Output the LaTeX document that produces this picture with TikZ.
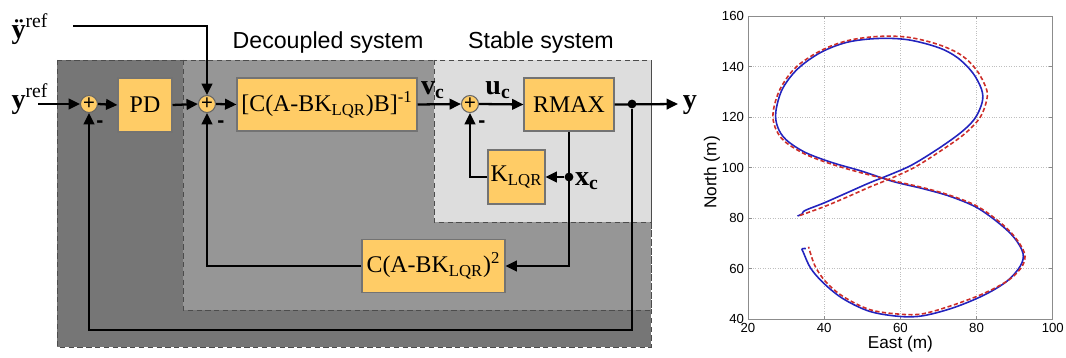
\documentclass[tikz,border=0pt]{standalone}
\usepackage{fontspec}
\setmainfont{Liberation Serif}
\newfontfamily\arialfont{Liberation Sans}
\usetikzlibrary{arrows.meta}
\definecolor{boxfill}{RGB}{255,204,102}
\definecolor{outergray}{RGB}{118,118,118}
\definecolor{midgray}{RGB}{150,150,150}
\definecolor{stablegray}{RGB}{221,221,221}
\definecolor{trackblue}{RGB}{35,35,190}
\definecolor{trackred}{RGB}{205,45,40}
\tikzset{
  block/.style={rectangle, draw=black!55, fill=boxfill, line width=0.6pt, inner sep=0pt, font=\fontsize{13.6}{15}\selectfont, align=center},
  sumnode/.style={circle, draw=black!60, fill=boxfill, line width=0.6pt, minimum size=0.34cm, inner sep=0pt, font=\arialfont\fontsize{11.5}{11.5}\selectfont},
  sig/.style={line width=1.3pt, -{Triangle[length=6.5pt,width=6pt]}},
  wire/.style={line width=1.3pt},
  region/.style={draw=black!70, densely dashed, line width=0.4pt},
  signame/.style={font=\fontsize{16}{18}\selectfont, inner sep=0pt},
  minus/.style={font=\arialfont\fontsize{12}{12}\selectfont\bfseries, inner sep=0pt},
  regiontitle/.style={font=\arialfont\fontsize{13.2}{14}\selectfont, inner sep=0pt},
  junction/.style={circle, fill=black, minimum size=5pt, inner sep=0pt},
  ticklabel/.style={font=\arialfont\fontsize{7.5}{8}\selectfont, inner sep=1pt},
  axislabel/.style={font=\arialfont\fontsize{9.8}{11}\selectfont, inner sep=0pt},
  gridline/.style={black!25, densely dotted, line width=0.4pt},
  track/.style={line width=0.9pt, line join=round}
}
\begin{document}
\begin{tikzpicture}[x=0.02cm, y=-0.02cm]
  \useasboundingbox (0,0) rectangle (1066,358);

  \draw[region, fill=outergray] (57,60) rectangle (651,347);
  \draw[region, fill=midgray] (183,60) rectangle (651,310);
  \draw[region, fill=stablegray] (434,60) rectangle (651,222);
  \node[regiontitle] (dectitle) at (328,43) {Decoupled system};
  \node[regiontitle] (stabtitle) at (541,43) {Stable system};

  \node[sumnode] (s1) at (89,104) {+};
  \node[sumnode] (s2) at (207,104) {+};
  \node[sumnode] (s3) at (470,104) {+};
  \node[block, minimum width=1.08cm, minimum height=1.08cm] (pd) at (145,105) {PD};
  \node[block, minimum width=3.6cm, minimum height=1.06cm] (dec) at (327,104.5) {[C(A-BK\textsubscript{LQR})B]\textsuperscript{-1}};
  \node[block, minimum width=1.8cm, minimum height=1.06cm] (rmax) at (569,104.5) {RMAX};
  \node[block, minimum width=1.14cm, minimum height=1.08cm] (klqr) at (516.5,177) {K\textsubscript{LQR}};
  \node[block, minimum width=2.86cm, minimum height=1.06cm] (cab) at (433.5,266) {C(A-BK\textsubscript{LQR})\textsuperscript{2}};

  \node[minus] (m1) at (100,124) {-};
  \node[minus] (m2) at (221,124) {-};
  \node[minus] (m3) at (482,124) {-};

  \node[signame] (yddlabel) at (30,29) {\textbf{ÿ}\textsuperscript{ref}};
  \node[signame] (yreflabel) at (30,99) {\textbf{y}\textsuperscript{ref}};
  \node[signame] (vclabel) at (433,90) {\textbf{v}\textsubscript{\textbf{c}}};
  \node[signame] (uclabel) at (498,90) {\textbf{u}\textsubscript{\textbf{c}}};
  \node[signame] (xclabel) at (587,181) {\textbf{x}\textsubscript{\textbf{c}}};
  \node[signame] (ylabel) at (690,105) {\textbf{y}};

  \coordinate (yddin) at (73,26);
  \coordinate (yin) at (38,104);
  \coordinate (yout) at (678,104);
  \node[junction] (jy) at (632,104) {};
  \node[junction] (jx) at (569,177) {};

  \draw[sig] (yddin) -| (s2.north);
  \draw[sig] (yin) -- (s1.west);
  \draw[sig] (s1.east) -- (pd.west);
  \draw[sig] (pd.east) -- (s2.west);
  \draw[sig] (s2.east) -- (dec.west);
  \draw[sig] (dec.east) -- (s3.west);
  \draw[sig] (s3.east) -- (rmax.west);
  \draw[sig] (rmax.east) -- (yout);
  \draw[sig] (jy) |- (89,330) -- (s1.south);
  \draw[sig] (rmax.south) |- (cab.east);
  \draw[sig] (jx) -- (klqr.east);
  \draw[sig] (klqr.west) -| (s3.south);
  \draw[sig] (cab.west) -| (s2.south);

  \begin{scope}[shift={(671.8,420)}, x=0.0762cm, y=0.0505cm]
    \foreach \gx in {40,60,80}
      \draw[gridline] (\gx,40) -- (\gx,160);
    \foreach \gy in {60,80,...,140}
      \draw[gridline] (20,\gy) -- (100,\gy);
    \foreach \gx in {20,40,...,100} {
      \draw[black!45, line width=0.4pt] (\gx,40) -- (\gx,41.3) (\gx,160) -- (\gx,158.7);
      \node[ticklabel, below] (xt\gx) at (\gx,39) {\gx};
    }
    \foreach \gy in {40,60,...,160} {
      \draw[black!45, line width=0.4pt] (20,\gy) -- (21,\gy) (100,\gy) -- (99,\gy);
      \node[ticklabel, left] (yt\gy) at (19.5,\gy) {\gy};
    }
    \draw[black!45, line width=0.5pt] (20,40) rectangle (100,160);
    \node[axislabel] (eastlabel) at (60,30) {East (m)};
    \node[axislabel, rotate=90] (northlabel) at (10.5,98) {North (m)};

    \draw[track, trackblue] plot[smooth, tension=0.55] coordinates {
      (33,80.8) (34.2,81.6) (35,83) (40,86) (46,90) (52,94) (57,97) (63,101)
      (70,107.5) (76,114) (79.6,119.5) (81.5,126) (81.3,131) (79,137.5)
      (75,143.5) (70,147.5) (62,150.6) (54,151.1) (46,149.6) (39,145.5)
      (33,139) (29,131) (27.3,122) (27.8,116) (30,111) (35,106) (42,102)
      (50,98.5) (58,94.5) (66,91.6) (73,88.6) (80,84.2) (86,77.8) (90,72)
      (92.2,66) (91.5,61) (88,55) (82,49.5) (74,44.5) (66,41.3) (60,41)
      (52,43) (45,48) (40,54) (36.5,60) (34.5,66.5) (34.2,67.8) (35.2,67.9)};
    \draw[track, trackred, dash pattern=on 2.4pt off 1.4pt] plot[smooth, tension=0.55] coordinates {
      (33.6,81) (40,84.5) (46,88.3) (52,92.3) (58,96) (64,100.3) (71,107)
      (77,113.5) (81,120) (82.7,127) (82.5,131.5) (80,138.6) (76,144.5)
      (70,148.7) (62,151.6) (54,151.9) (46,150.2) (39,146.2) (32.5,139.6)
      (28.4,131) (26.6,122) (27.1,116) (29.5,110.5) (35,105.3) (42,101.3)
      (50,97.8) (58,94.8) (66,92) (73,89) (80,84.8) (86,78.5) (90,72.6)
      (92.6,66) (92,61) (88.6,55.6) (82,50.2) (74,45.6) (66,42.1) (60,41.9)
      (52,43.7) (45,48.9) (40.5,54.6) (37.6,61) (35.9,68.6)};
  \end{scope}
\end{tikzpicture}
\end{document}
